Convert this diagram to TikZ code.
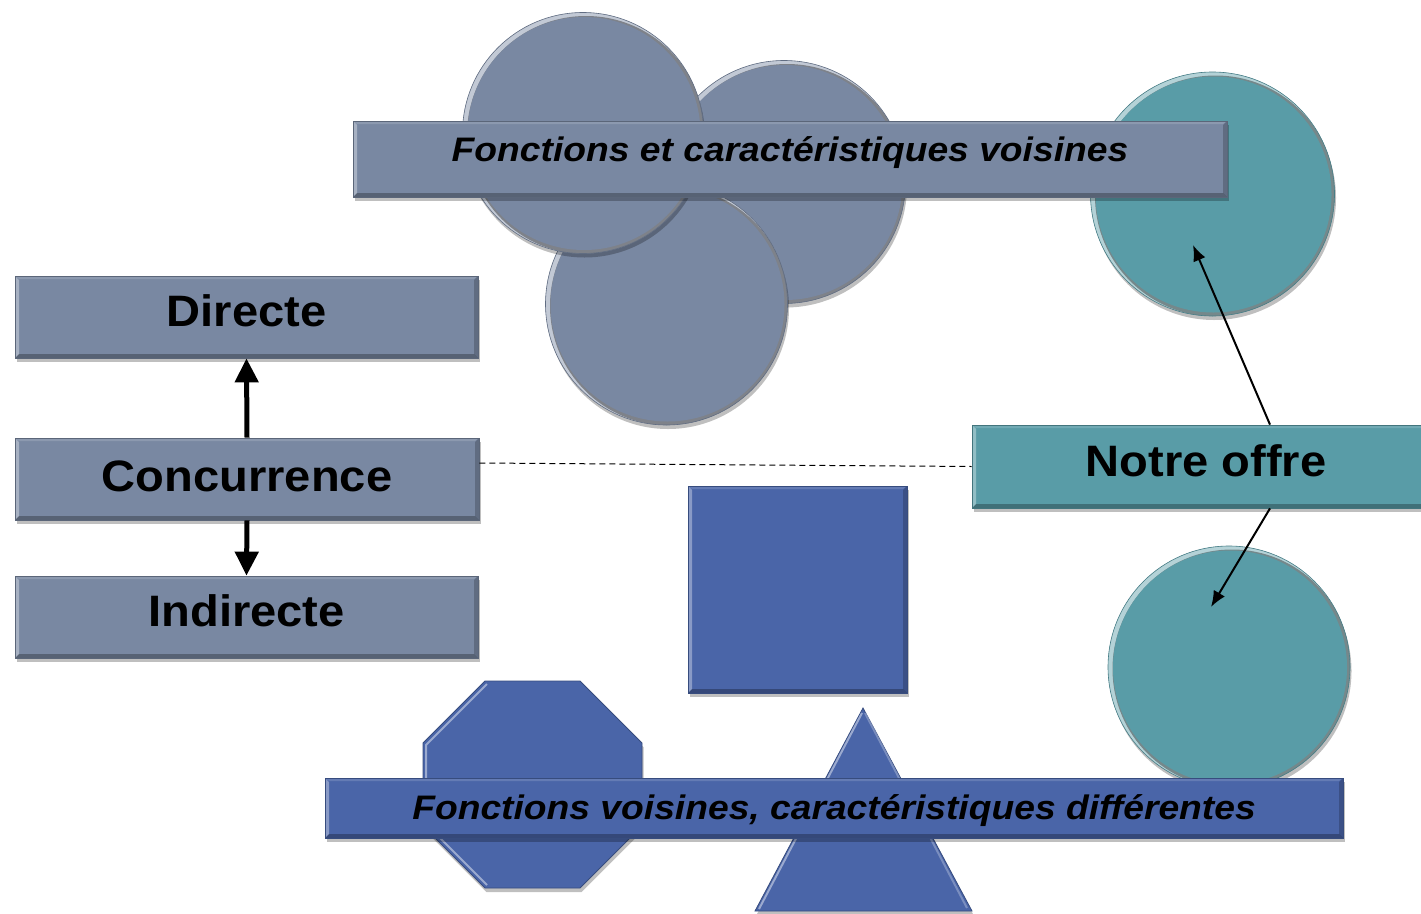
\documentclass[tikz,border=0pt]{standalone}
\usepackage{fontspec}
\setmainfont{Liberation Sans}
\newfontfamily\headfont[FakeStretch=1.07]{Liberation Sans}
\newfontfamily\barfont[FakeStretch=1.095]{Liberation Sans}
\usetikzlibrary{shadows,calc,arrows.meta}

\definecolor{slateC}{RGB}{121,136,162}
\definecolor{tealC}{RGB}{89,156,167}
\definecolor{royalC}{RGB}{74,101,168}

\tikzset{
  shade drop/.style={drop shadow={opacity=.25, shadow xshift=1.5pt, shadow yshift=-4pt, fill=black}},
  % bevelled edges of the rectangular slabs
  barbevel/.style={path picture={
    \fill[white,opacity=.35] (path picture bounding box.north west) -- (path picture bounding box.south west)
      -- ([shift={(4pt,4pt)}]path picture bounding box.south west) -- ([shift={(4pt,-4pt)}]path picture bounding box.north west) -- cycle;
    \fill[white,opacity=.15] (path picture bounding box.north west) -- (path picture bounding box.north east)
      -- ([shift={(-4pt,-3pt)}]path picture bounding box.north east) -- ([shift={(4pt,-3pt)}]path picture bounding box.north west) -- cycle;
    \fill[black,opacity=.2] (path picture bounding box.north east) -- (path picture bounding box.south east)
      -- ([shift={(-4pt,4pt)}]path picture bounding box.south east) -- ([shift={(-4pt,-4pt)}]path picture bounding box.north east) -- cycle;
    \fill[black,opacity=.28] (path picture bounding box.south west) -- (path picture bounding box.south east)
      -- ([shift={(-4pt,4pt)}]path picture bounding box.south east) -- ([shift={(4pt,4pt)}]path picture bounding box.south west) -- cycle;
  }},
  slab/.style={rectangle, fill=#1, draw=#1!75!black, line width=.8pt, inner sep=0pt, text depth=0pt, shade drop, barbevel},
  % round discs with a light rim on the left and a darker rim on the right
  disc/.style={circle, fill=#1, draw=#1!80!black, line width=.6pt, inner sep=0pt, shade drop, path picture={
    \fill[white,opacity=.55] (path picture bounding box.south west) rectangle (path picture bounding box.north east);
    \path let \p1=($(path picture bounding box.north east)-(path picture bounding box.center)$) in
      [fill=black,opacity=.35] ([shift={(3pt,-2pt)}]path picture bounding box.center) circle [radius=\x1-1.5pt];
    \path let \p1=($(path picture bounding box.north east)-(path picture bounding box.center)$) in
      [fill=#1] ([shift={(1pt,-.5pt)}]path picture bounding box.center) circle [radius=\x1-4pt];
  }},
  solid shape/.style={fill=#1, draw=#1!75!black, line width=.8pt, shade drop},
  polyrim/.style={draw=royalC!55!white, line width=2pt, line join=round},
  headtext/.style={font={\headfont\bfseries\fontsize{44}{48}\selectfont}},
  bartext/.style={font={\barfont\bfseries\itshape\fontsize{34}{38}\selectfont}},
  thickarrow/.style={line width=5pt, -{Triangle[length=24pt,width=23pt]}},
  thinarrow/.style={line width=2pt, -{Latex[length=16pt,width=13pt]}},
  linkdash/.style={line width=1pt, dash pattern=on 6pt off 4pt},
}

\begin{document}
\begin{tikzpicture}[x=1pt,y=-1pt]
  \path[use as bounding box] (0,0) rectangle (1421,913);
  \clip (0,0) rectangle (1421,913);
  \fill[white] (0,0) rectangle (1421,913);

  % cluster of neighbouring offers
  \node[disc=slateC, minimum size=243pt] (g2) at (784,182) {};
  \node[disc=slateC, minimum size=242pt] (g3) at (666.5,304) {};
  \node[disc=slateC, minimum size=241pt] (g1) at (583,133) {};
  \node[disc=tealC, minimum size=244pt] (o1) at (1212.5,194) {};

  \node[slab=slateC, minimum width=874pt, minimum height=76pt, text height=4pt, bartext] (top) at (790,159)
    {Fonctions et caractéristiques voisines};

  % kinds of competition
  \node[slab=slateC, minimum width=463pt, minimum height=82pt, text height=18pt, headtext] (dir) at (246.5,317) {Directe};
  \node[slab=slateC, minimum width=464pt, minimum height=82pt, text height=24pt, headtext] (conc) at (247,479) {Concurrence};
  \node[slab=slateC, minimum width=463pt, minimum height=82pt, text height=18pt, headtext] (ind) at (246.5,617) {Indirecte};

  \draw[thickarrow] (conc.north) -- (dir.south);
  \draw[thickarrow] (conc.south) -- (ind.north);

  % different-feature shapes
  \node[slab=royalC, minimum width=219pt, minimum height=207pt] (sq) at (797.5,589.5) {};
  \path[solid shape=royalC] (485,681) -- (580,681) -- (642,743) -- (642,826) -- (580,888) -- (485,888) -- (423,826) -- (423,743) -- cycle;
  \draw[polyrim] (487,684) -- (426,745) -- (426,824) -- (487,885);
  \path[solid shape=royalC] (863,708) -- (972,911) -- (755,911) -- cycle;
  \draw[polyrim] (862,713) -- (759,909);
  \draw[polyrim,opacity=.6] (865,713) -- (967,908);
  \node[disc=tealC, minimum size=242pt] (o2) at (1229,667) {};

  \node[slab=royalC, minimum width=1018pt, minimum height=60pt, text height=23pt, bartext] (bot) at (834,808)
    {Fonctions voisines, caractéristiques différentes};

  % our offer
  \node[slab=tealC, minimum width=468pt, minimum height=83pt, text height=20pt, headtext] (offre) at (1206,466.5) {Notre offre};

  \coordinate (hit1) at (1193,245);
  \coordinate (hit2) at (1211,607);
  \draw[thinarrow] ([xshift=64pt]offre.north) -- (hit1);
  \draw[thinarrow] ([xshift=64pt]offre.south) -- (hit2);
  \draw[linkdash] ([yshift=16pt]conc.east) -- (offre.west);
\end{tikzpicture}
\end{document}
